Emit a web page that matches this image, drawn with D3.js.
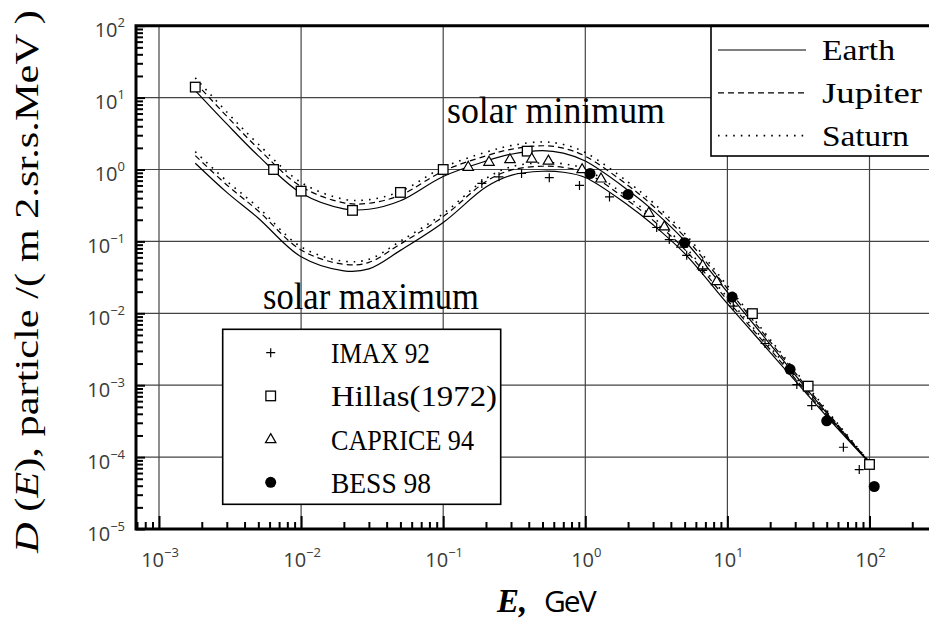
<!DOCTYPE html>
<html lang="en">
<head>
<meta charset="UTF-8">
<title>Cosmic ray spectrum</title>
<script src="https://cdn.jsdelivr.net/npm/d3@7"></script>
<style>
    body { margin: 0; background: #ffffff; }
    svg { display: block; }
    .serif { font-family: "Liberation Serif", "DejaVu Serif", serif; fill: #000; }
    .num { font-family: "Open Sans", "DejaVu Sans", sans-serif; fill: #3a3a3a; }
</style>
</head>
<body>
<div id="canvas"></div>
<script>

// model curves, energy grid in GeV
const curveE     = [0.0018, 0.003, 0.005, 0.01, 0.02, 0.03, 0.05, 0.1, 0.2, 0.3, 0.5, 0.7, 1, 2, 3, 5, 10, 20, 50, 100];
const minEarth   = [12.5, 4.3, 1.55, 0.47, 0.284, 0.28, 0.367, 0.8, 1.31, 1.63, 1.83, 1.69, 1.31, 0.515, 0.27, 0.102, 0.0197, 0.0037, 0.00041, 0.000083];
const minJupiter = [16.2, 5.5, 1.95, 0.58, 0.344, 0.339, 0.44, 0.95, 1.55, 1.91, 2.14, 1.98, 1.53, 0.6, 0.31, 0.116, 0.0221, 0.00403, 0.00043, 0.000084];
const minSaturn  = [18.8, 6.3, 2.25, 0.66, 0.386, 0.381, 0.495, 1.07, 1.74, 2.15, 2.42, 2.23, 1.72, 0.67, 0.346, 0.129, 0.0242, 0.00433, 0.00045, 0.0000855];
const maxEarth   = [1.22, 0.48, 0.21, 0.061, 0.039, 0.0415, 0.075, 0.183, 0.57, 0.83, 0.946, 0.916, 0.775, 0.318, 0.17, 0.068, 0.0136, 0.00287, 0.000367, 0.000083];
const maxJupiter = [1.56, 0.61, 0.265, 0.076, 0.048, 0.051, 0.092, 0.221, 0.68, 0.98, 1.11, 1.07, 0.91, 0.369, 0.196, 0.0775, 0.0152, 0.00313, 0.000385, 0.000084];
const maxSaturn  = [1.77, 0.69, 0.296, 0.084, 0.053, 0.0564, 0.101, 0.243, 0.75, 1.09, 1.24, 1.2, 1.01, 0.41, 0.216, 0.085, 0.0166, 0.00336, 0.000404, 0.0000855];

// measurements
const imaxE = [0.187, 0.247, 0.356, 0.558, 0.91, 1.48, 3.18, 3.9, 5.17, 6.7, 11, 18.4, 30.8, 39.2, 65.5, 84.7];
const imaxD = [0.64, 0.79, 0.88, 0.77, 0.60, 0.415, 0.156, 0.106, 0.064, 0.0395, 0.0126, 0.0038, 0.00102, 0.00052, 0.000137, 0.000067];
const hillasE = [0.0018, 0.0064, 0.01, 0.023, 0.05, 0.1, 0.39, 15, 37, 100];
const hillasD = [14, 1.0, 0.5, 0.27, 0.48, 1.0, 1.8, 0.0099, 0.00097, 0.000079];
const capriceE = [0.15, 0.21, 0.295, 0.42, 0.55, 0.95, 1.29, 2.8, 3.6, 4.8, 6.7, 8.4];
const capriceD = [1.09, 1.28, 1.39, 1.42, 1.33, 1.01, 0.75, 0.25, 0.162, 0.093, 0.0465, 0.028];
const bessE = [1.08, 2.0, 5.0, 10.8, 27.6, 50, 108];
const bessD = [0.88, 0.45, 0.096, 0.0168, 0.00166, 0.00032, 0.000039];

// ticks and labels
const xDecades = [-3, -2, -1, 0, 1, 2];
const yDecades = [-5, -4, -3, -2, -1, 0, 1, 2];
const lineNames = ['Earth', 'Jupiter', 'Saturn'];
const pointNames = ['IMAX 92', 'Hillas(1972)', 'CAPRICE 94', 'BESS 98'];

const width = 929, height = 620;
const plotLeft = 136, plotRight = 929, plotTop = 25.7, plotBottom = 529;

const svg = d3.select('#canvas').append('svg')
    .attr('width', width)
    .attr('height', height);

const x = d3.scaleLog().domain([1e-3, 1e2]).range([159, 869.5]);
const y = d3.scaleLog().domain([1e-5, 1e2]).range([plotBottom, plotTop]);

// grid
const grid = svg.append('g').attr('stroke', '#444').attr('stroke-width', 1.2);
grid.selectAll('.gx').data(xDecades).enter().append('line')
    .attr('x1', d => x(Math.pow(10, d))).attr('x2', d => x(Math.pow(10, d)))
    .attr('y1', plotTop).attr('y2', plotBottom);
grid.selectAll('.gy').data(yDecades.slice(1, -1)).enter().append('line')
    .attr('x1', plotLeft).attr('x2', plotRight)
    .attr('y1', d => y(Math.pow(10, d))).attr('y2', d => y(Math.pow(10, d)));

// curves
const line = d3.line()
    .x(d => x(d[0]))
    .y(d => y(d[1]))
    .curve(d3.curveCatmullRom.alpha(0.5));

const dashes = [null, '6,4', '1.6,6'];
const curves = [
    [minEarth, 0], [minJupiter, 1], [minSaturn, 2],
    [maxEarth, 0], [maxJupiter, 1], [maxSaturn, 2]
];

svg.append('g').selectAll('path')
    .data(curves)
    .enter()
    .append('path')
    .attr('d', d => line(curveE.map((e, i) => [e, d[0][i]])))
    .attr('fill', 'none')
    .attr('stroke', '#000')
    .attr('stroke-width', d => d[1] === 2 ? 1.6 : 1.2)
    .attr('stroke-dasharray', d => dashes[d[1]]);

// markers
const drawMarker = (g, kind) => {
    if (kind === 0) {
        g.append('path').attr('d', 'M-4.5,0H4.5M0,-4.5V4.5')
            .attr('stroke', '#000').attr('stroke-width', 1.2);
    } else if (kind === 1) {
        g.append('rect').attr('x', -4.8).attr('y', -4.8).attr('width', 9.6).attr('height', 9.6)
            .attr('fill', '#fff').attr('stroke', '#000').attr('stroke-width', 1.3);
    } else if (kind === 2) {
        g.append('path').attr('d', 'M0,-5.5L5.2,3.5H-5.2Z')
            .attr('fill', '#fff').attr('stroke', '#000').attr('stroke-width', 1.2);
    } else {
        g.append('circle').attr('r', 5.5).attr('fill', '#000');
    }
};

const sets = [[imaxE, imaxD], [hillasE, hillasD], [capriceE, capriceD], [bessE, bessD]];
const marks = svg.append('g');
[1, 2, 3, 0].forEach(k => {
    const [es, ds] = sets[k];
    es.forEach((e, i) => {
        const g = marks.append('g').attr('transform', `translate(${x(e)},${y(ds[i])})`);
        drawMarker(g, k);
    });
});

// annotations
svg.append('text').attr('class', 'serif')
    .attr('x', 447).attr('y', 122.5)
    .attr('font-size', 38)
    .attr('textLength', 218).attr('lengthAdjust', 'spacingAndGlyphs')
    .text('solar minimum');
svg.append('text').attr('class', 'serif')
    .attr('x', 263).attr('y', 308.5)
    .attr('font-size', 38)
    .attr('textLength', 216).attr('lengthAdjust', 'spacingAndGlyphs')
    .text('solar maximum');

// legend: model lines
const legTop = svg.append('g');
legTop.append('rect')
    .attr('x', 711).attr('y', plotTop).attr('width', 240).attr('height', 130.3)
    .attr('fill', '#fff').attr('stroke', '#000').attr('stroke-width', 1.6);
const lineLen = [73, 100, 87];
lineNames.forEach((name, i) => {
    const ly = 50 + i * 42.8;
    legTop.append('line')
        .attr('x1', 718).attr('x2', 806).attr('y1', ly).attr('y2', ly)
        .attr('stroke', '#000')
        .attr('stroke-width', i === 2 ? 1.6 : 1.2)
        .attr('stroke-dasharray', dashes[i]);
    legTop.append('text').attr('class', 'serif')
        .attr('x', 822).attr('y', ly + 10)
        .attr('font-size', 29)
        .attr('textLength', lineLen[i]).attr('lengthAdjust', 'spacingAndGlyphs')
        .text(name);
});

// legend: measurements
const legLow = svg.append('g');
legLow.append('rect')
    .attr('x', 222.7).attr('y', 329.3).attr('width', 278).attr('height', 175)
    .attr('fill', '#fff').attr('stroke', '#000').attr('stroke-width', 1.6);
const pointLen = [99, 166, 143, 100];
pointNames.forEach((name, i) => {
    const ly = 352.7 + i * 43.2;
    const g = legLow.append('g').attr('transform', `translate(270.7,${ly})`);
    drawMarker(g, i);
    legLow.append('text').attr('class', 'serif')
        .attr('x', 331).attr('y', ly + 10.5)
        .attr('font-size', 30)
        .attr('textLength', pointLen[i]).attr('lengthAdjust', 'spacingAndGlyphs')
        .text(name);
});

// axes
const xTickScale = d3.scaleLog().domain([x.invert(plotLeft), x.invert(plotRight)]).range([plotLeft, plotRight]);
const isMajor = v => Math.abs(Math.log10(v) - Math.round(Math.log10(v))) < 1e-6;

const xAxis = svg.append('g')
    .attr('transform', `translate(0,${plotBottom})`)
    .call(d3.axisBottom(x).tickValues(xTickScale.ticks()).tickSize(-7).tickFormat(''));
xAxis.select('.domain').remove();
xAxis.selectAll('.tick line')
    .attr('stroke', '#000').attr('stroke-width', 2)
    .attr('y2', d => isMajor(d) ? -13 : -7);

const yAxis = svg.append('g')
    .attr('transform', `translate(${plotLeft},0)`)
    .call(d3.axisLeft(y).tickValues(y.ticks()).tickSize(-7).tickFormat(''));
yAxis.select('.domain').remove();
yAxis.selectAll('.tick line')
    .attr('stroke', '#000').attr('stroke-width', 2)
    .attr('x2', d => isMajor(d) ? 9 : 7);

svg.append('path')
    .attr('d', `M${plotRight},${plotTop}H${plotLeft}V${plotBottom}H${plotRight}`)
    .attr('fill', 'none').attr('stroke', '#000').attr('stroke-width', 3);

// tick labels with powers of ten
const expLabel = (sel) => {
    sel.append('tspan').attr('font-size', 20).text('10');
    sel.append('tspan').attr('font-size', 13).attr('dy', -10)
        .text(d => d < 0 ? '\u2212' + Math.abs(d) : d);
};

svg.append('g').selectAll('text')
    .data(xDecades)
    .enter()
    .append('text').attr('class', 'num')
    .attr('x', d => x(Math.pow(10, d)) + 1)
    .attr('y', 566.5)
    .attr('text-anchor', 'middle')
    .call(expLabel);

svg.append('g').selectAll('text')
    .data(yDecades)
    .enter()
    .append('text').attr('class', 'num')
    .attr('x', 125)
    .attr('y', d => y(Math.pow(10, d)) + 11.5)
    .attr('text-anchor', 'end')
    .call(expLabel);

// axis titles
const xt = svg.append('text').attr('y', 611.5);
xt.append('tspan').attr('class', 'serif')
    .attr('x', 497).attr('font-size', 33).attr('font-style', 'italic').attr('font-weight', 'bold')
    .text('E,');
xt.append('tspan').attr('class', 'num').style('fill', '#000')
    .attr('x', 544).attr('font-size', 30).attr('letter-spacing', -2)
    .text('GeV');

const yt = svg.append('text').attr('class', 'serif')
    .attr('transform', 'translate(38,553) rotate(-90)')
    .attr('font-size', 33)
    .attr('textLength', 543).attr('lengthAdjust', 'spacingAndGlyphs');
yt.append('tspan').attr('font-style', 'italic').text('D');
yt.append('tspan').text(' (');
yt.append('tspan').attr('font-style', 'italic').text('E');
yt.append('tspan').text('), particle /( m 2.sr.s.MeV )');

</script>
</body>
</html>
